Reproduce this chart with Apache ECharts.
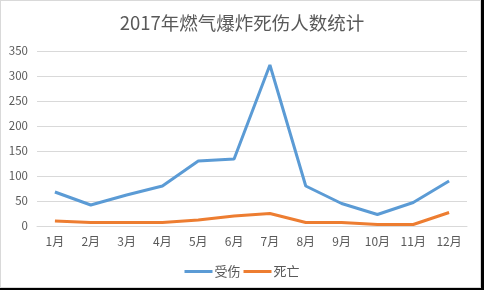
<!DOCTYPE html>
<html>
<head>
<meta charset="utf-8">
<script src="https://cdn.jsdelivr.net/npm/echarts@6/dist/echarts.min.js"></script>
<style>
html,body{margin:0;padding:0;background:#000;}
#wrap{position:absolute;left:0;top:0;width:481px;height:288px;box-sizing:border-box;border:1px solid #d9d9d9;background:#fff;}
#chart{position:absolute;left:-1px;top:-1px;width:484px;height:290px;}
</style>
</head>
<body>
<div id="wrap"><div id="chart"></div></div>
<script>
const titleText = '2017年燃气爆炸死伤人数统计';
const months = ['1月','2月','3月','4月','5月','6月','7月','8月','9月','10月','11月','12月'];
const injured = [68, 42, 62, 80, 130, 134, 322, 80, 45, 23, 47, 90];
const deaths = [10, 7, 7, 7, 12, 20, 25, 7, 7, 3, 3, 27];
const yTicks = {min: 0, max: 350, interval: 50};

const font = '"Noto Sans CJK SC", "Open Sans", sans-serif';
const chart = echarts.init(document.getElementById('chart'));
chart.setOption({
  animation: false,
  backgroundColor: 'transparent',
  title: {
    text: titleText, left: 'center', top: 9,
    textStyle: {fontSize: 18.5, fontWeight: 'normal', color: '#595959', fontFamily: font}
  },
  grid: {left: 37, right: 17, top: 51, bottom: 64},
  legend: {
    bottom: 7, left: 'center', itemWidth: 28, itemHeight: 3, itemGap: 3,
    icon: 'rect',
    textStyle: {fontSize: 13, color: '#595959', fontFamily: font, padding: [0,0,0,-3]},
    data: ['受伤', '死亡']
  },
  xAxis: {
    type: 'category', data: months, boundaryGap: true,
    axisLine: {lineStyle: {color: '#d9d9d9'}},
    axisTick: {show: false},
    axisLabel: {color: '#595959', fontSize: 12, margin: 9, fontFamily: font}
  },
  yAxis: {
    type: 'value', min: yTicks.min, max: yTicks.max, interval: yTicks.interval,
    axisLine: {show: false}, axisTick: {show: false},
    splitLine: {lineStyle: {color: '#d9d9d9'}},
    axisLabel: {color: '#595959', fontSize: 11.5, margin: 9, fontFamily: font}
  },
  series: [
    {name: '受伤', type: 'line', data: injured, symbol: 'none',
     lineStyle: {width: 3, color: '#5B9BD5'}, itemStyle: {color: '#5B9BD5'}},
    {name: '死亡', type: 'line', data: deaths, symbol: 'none',
     lineStyle: {width: 3, color: '#ED7D31'}, itemStyle: {color: '#ED7D31'}}
  ]
});
</script>
</body>
</html>
